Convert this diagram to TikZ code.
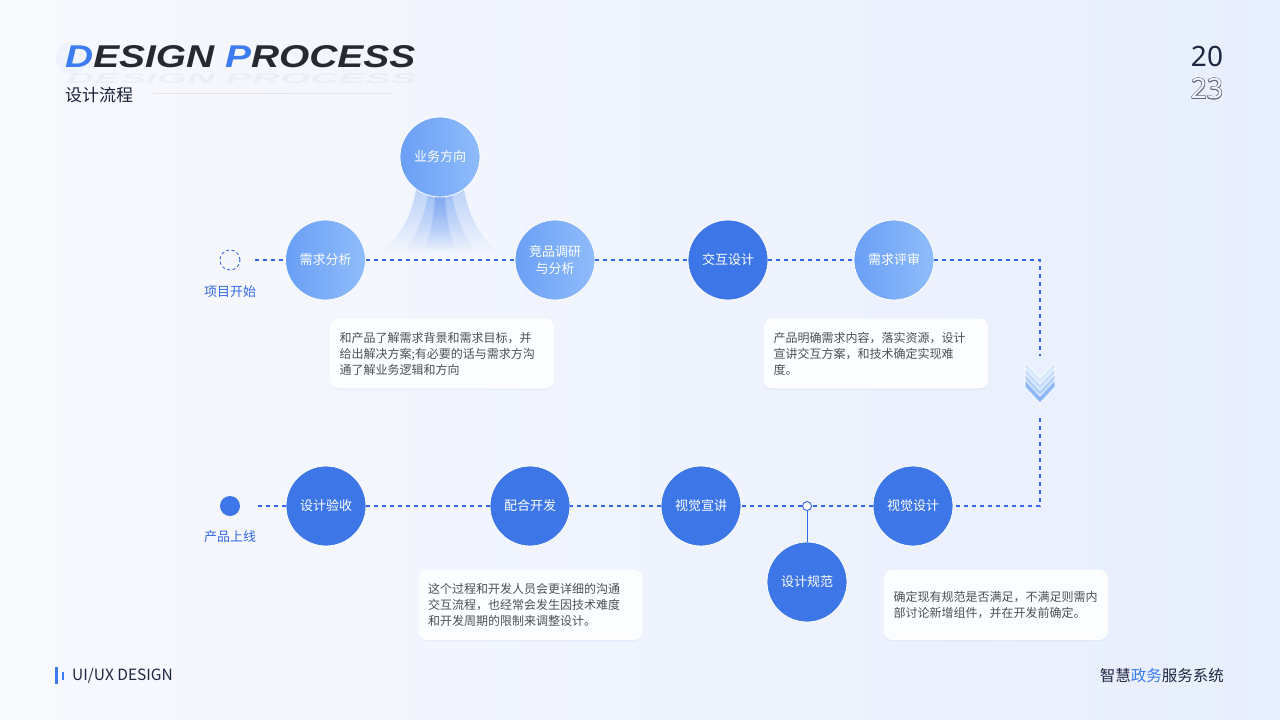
\documentclass[tikz,border=0pt]{standalone}
\usepackage{fontspec}
\setmainfont{Noto Sans CJK SC}
\newfontfamily\titlefont{Liberation Sans}
\newfontfamily\numfont{Noto Sans}
\usetikzlibrary{shadows,fadings,calc}
\definecolor{bgA}{HTML}{F8F9FD}
\definecolor{bgB}{HTML}{E7EEFD}
\definecolor{dblue}{HTML}{3D76E6}
\definecolor{lblueA}{HTML}{6A9FF5}
\definecolor{lblueB}{HTML}{8FBCFB}
\definecolor{dashc}{HTML}{3468E2}
\definecolor{navy}{HTML}{1C2640}
\definecolor{txtgray}{HTML}{4D4F55}
\definecolor{accent}{HTML}{3C7BF0}
\definecolor{darktitle}{HTML}{26292F}
\tikzfading[name=fanfade, top color=transparent!35, bottom color=transparent!100]
\begin{document}
\begin{tikzpicture}[x=1pt,y=-1pt,
  lightc/.style={circle, minimum size=80pt, inner sep=0pt, draw=white, line width=0.8pt,
    left color=lblueA, right color=lblueB, text=white, font=\fontsize{13}{18}\selectfont, align=center},
  darkc/.style={circle, minimum size=80pt, inner sep=0pt, draw=white, line width=0.8pt,
    fill=dblue, text=white, font=\fontsize{13}{18}\selectfont, align=center},
  dl/.style={draw=dashc, line width=1.1pt, dash pattern=on 4pt off 4pt},
  lbl/.style={text=dashc, font=\fontsize{13}{16}\selectfont},
  infobox/.style={rounded corners=8pt, fill=white!60!bgA, draw=white, line width=0.8pt,
    drop shadow={shadow xshift=0pt, shadow yshift=-2pt, opacity=0.12, fill=dblue!50},
    minimum width=223pt, minimum height=69pt, text width=205pt, inner xsep=9pt,
    align=left, font=\fontsize{12}{16}\selectfont, text=txtgray},
  chev/.style={fill=#1, draw=white, line width=0.6pt}
]
\useasboundingbox (0,0) rectangle (1280,720);
% background
\shade[left color=bgA, right color=bgB] (0,0) rectangle (1280,720);

% title
\fill[bgB!70!white] (72,58) circle (16);
\node[anchor=base west, inner sep=0pt, opacity=0.035] at (66,83)
  {\resizebox{350pt}{10pt}{\titlefont\bfseries\itshape DESIGN PROCESS}};
\node[anchor=base west, inner sep=0pt, text=darktitle] (title) at (65,67)
  {\resizebox{350pt}{22pt}{\titlefont\bfseries\itshape \textcolor{accent}{D}ESIGN \textcolor{accent}{P}ROCESS}};
\node[anchor=west, inner sep=0pt, text=navy!90!black, font=\fontsize{17}{20}\selectfont] (subtitle) at (65,95) {设计流程};
\draw[draw=gray!20, line width=0.8pt] (153,93) -- (392,93);

% year
\node[text=navy, font=\numfont\bfseries\fontsize{28}{30}\selectfont] (y20) at (1207,56) {20};
\foreach \a in {0,30,...,330}
  \path (1207,89) ++(\a:0.55) node[text=navy!70, font=\numfont\fontsize{28}{30}\selectfont] {23};
\node[text=bgB!60!white, font=\numfont\fontsize{28}{30}\selectfont] (y23) at (1207,89) {23};

% fan under 业务方向
\fill[lblueA, path fading=fanfade, fill opacity=0.6]
  (416,190) .. controls (410,222) and (396,240) .. (383,252) -- (497,252)
  .. controls (484,240) and (470,222) .. (464,190) -- cycle;
\fill[lblueA, path fading=fanfade, fill opacity=0.6]
  (428,194) .. controls (424,222) and (412,240) .. (404,252) -- (476,252)
  .. controls (468,240) and (456,222) .. (452,194) -- cycle;
\fill[dblue, path fading=fanfade, fill opacity=0.5]
  (435,196) .. controls (434,222) and (428,240) .. (424,252) -- (456,252)
  .. controls (452,240) and (446,222) .. (445,196) -- cycle;

% nodes top row
\node[circle, draw=dashc, line width=0.9pt, dash pattern=on 3pt off 2.5pt, minimum size=20pt, inner sep=0pt] (st) at (230,260) {};
\node[lbl] (stl) at (230,292) {项目开始};
\node[lightc] (xqfx) at (325.5,260) {需求分析};
\node[lightc] (ywfx) at (440,157) {业务方向};
\node[lightc] (jpdy) at (555,260) {竞品调研\\[-1pt]与分析};
\node[darkc] (jhsj) at (728,260) {交互设计};
\node[lightc] (xqps) at (894,260) {需求评审};

% bottom row
\node[circle, fill=dblue, minimum size=20pt, inner sep=0pt] (ed) at (230,506) {};
\node[lbl] (edl) at (230,537) {产品上线};
\node[darkc] (sjys) at (326,506) {设计验收};
\node[darkc] (phkf) at (530,506) {配合开发};
\node[darkc] (sjxj) at (701,506) {视觉宣讲};
\node[darkc] (sjsj) at (913,506) {视觉设计};
\node[darkc] (sjgf) at (807,582) {设计规范};
\node[circle, fill=white, draw=dashc, line width=0.9pt, minimum size=9pt, inner sep=0pt] (dot) at (807,506) {};

% corners and chevron
\coordinate (c1) at (1040,260);
\coordinate (c2) at (1040,506);
\coordinate (chevtop) at (1040,356);
\coordinate (chevbot) at (1040,418);
\foreach \i/\c in {0/lblueB!35, 1/lblueB!50, 2/lblueB!70, 3/lblueA!75}
  \filldraw[chev=\c] ($(1025,362)+(0,\i*6)$) -- ++(15,16) -- ++(15,-16) -- ++(0,7) -- ++(-15,16) -- ++(-15,-16) -- cycle;

% connectors
\draw[dl, shorten <=15pt] (st) -- (xqfx);
\draw[dl] (xqfx) -- (jpdy);
\draw[dl] (jpdy) -- (jhsj);
\draw[dl] (jhsj) -- (xqps);
\draw[dl] (xqps) -- (c1) -- (chevtop);
\draw[dl] (chevbot) -- (c2) -- (sjsj);
\draw[dl] (sjsj) -- (dot);
\draw[dl] (dot) -- (sjxj);
\draw[dl] (sjxj) -- (phkf);
\draw[dl] (phkf) -- (sjys);
\draw[dl, shorten >=17pt] (sjys) -- (ed);
\draw[draw=dashc, line width=0.9pt] (dot) -- (sjgf);

% info boxes
\node[infobox] (b1) at (442,353.5) {和产品了解需求背景和需求目标，并\\给出解决方案;有必要的话与需求方沟\\通了解业务逻辑和方向};
\node[infobox] (b2) at (876,353.5) {产品明确需求内容，落实资源，设计\\宣讲交互方案，和技术确定实现难\\度。};
\node[infobox] (b3) at (530.5,605) {这个过程和开发人员会更详细的沟通\\交互流程，也经常会发生因技术难度\\和开发周期的限制来调整设计。};
\node[infobox] (b4) at (996,605) {确定现有规范是否满足，不满足则需内\\部讨论新增组件，并在开发前确定。};

% footer
\fill[accent] (55,667) rectangle (57.5,684);
\fill[accent] (61.5,672) rectangle (63.5,680);
\node[anchor=west, inner sep=0pt, text=navy, font=\fontsize{15.5}{18}\selectfont] (uiux) at (72,676) {UI/UX DESIGN};
\node[anchor=east, inner sep=0pt, text=navy, font=\fontsize{15.5}{18}\selectfont] (sys) at (1224,676) {智慧\textcolor{accent}{政务}服务系统};
\end{tikzpicture}
\end{document}
